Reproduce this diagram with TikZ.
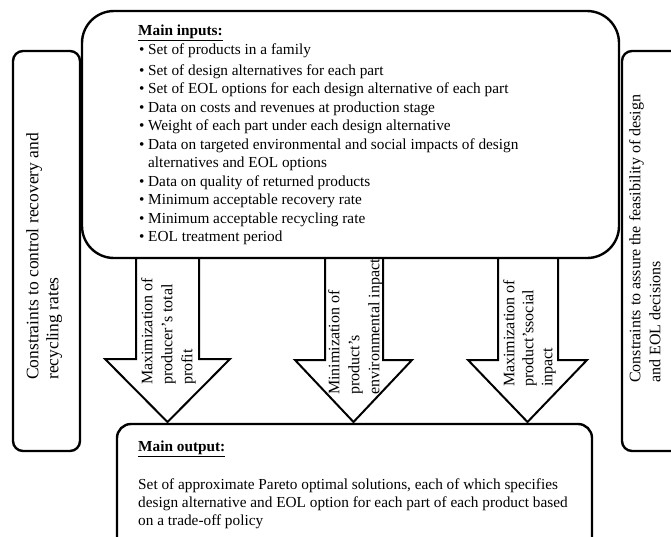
\documentclass[tikz,border=0pt]{standalone}
\usepackage{fontspec}
\setmainfont{Liberation Serif}
\newcommand\inbullet{\makebox[10pt][l]{\hspace{1pt}\textbullet}}
\begin{document}
\begin{tikzpicture}[x=1pt,y=-1pt,
  box/.style={draw=black, line width=2.4pt, fill=white, inner sep=0pt},
  bigarrow/.style={draw=black, line width=2pt, fill=white, line join=miter},
  vlabel/.style={rotate=90, anchor=north west, inner sep=0pt, align=left,
                 font=\fontsize{16}{20}\selectfont},
  bodytext/.style={anchor=north west, inner sep=0pt, align=left,
                 font=\fontsize{15.3}{18.5}\selectfont},
]
\useasboundingbox (0,0) rectangle (671,536);
\clip (0,0) rectangle (671,536);

% side constraint boxes
\node[box, rounded corners=10pt, minimum width=67pt, minimum height=400pt]
  (leftbox) at (46.5,251) {};
\node[box, rounded corners=10pt, minimum width=80pt, minimum height=400pt]
  (rightbox) at (662,251) {};

% main inputs box
\node[box, rounded corners=32pt, minimum width=537pt, minimum height=247pt]
  (inputs) at (350.5,134.5) {};

% main output box
\node[box, rounded corners=14pt, minimum width=475pt, minimum height=140pt]
  (output) at (354.5,494) {};

% objective arrows
\draw[bigarrow] (136,258) -- (136,359) -- (105,359) -- (167.5,422)
  -- (230,359) -- (199,359) -- (199,258) -- cycle;
\draw[bigarrow] (325,258) -- (325,360) -- (295,360) -- (353.5,422)
  -- (412,360) -- (383,360) -- (383,258) -- cycle;
\draw[bigarrow] (498,258) -- (498,360) -- (468,360) -- (527.5,422)
  -- (587,360) -- (558,360) -- (558,258) -- cycle;

% texts
\node[bodytext] (intext) at (138,25) {%
  \textbf{\underline{Main inputs:}}\\
  \inbullet Set of products in a family\\[2.5pt]
  \inbullet Set of design alternatives for each part\\
  \inbullet Set of EOL options for each design alternative of each part\\
  \inbullet Data on costs and revenues at production stage\\
  \inbullet Weight of each part under each design alternative\\
  \inbullet Data on targeted environmental and social impacts of design\\
  \hspace*{10pt}alternatives and EOL options\\
  \inbullet Data on quality of returned products\\
  \inbullet Minimum acceptable recovery rate\\
  \inbullet Minimum acceptable recycling rate\\
  \inbullet EOL treatment period};

\node[bodytext, font=\fontsize{15.3}{18}\selectfont] (outtext) at (138,441) {%
  \textbf{\underline{Main output:}}\\[20pt]
  Set of approximate Pareto optimal solutions, each of which specifies\\
  design alternative and EOL option for each part of each product based\\
  on a trade-off policy};

\node[vlabel, font=\fontsize{17.5}{20}\selectfont] (lefttext) at (26,380)
  {Constraints to control recovery and\\recycling rates};
\node[vlabel] (righttext) at (629,383)
  {Constraints to assure the feasibility of design\\and EOL decisions};

\node[vlabel] (a1text) at (141,385)
  {Maximization of\\producer’s total\\profit};
\node[vlabel] (a2text) at (328,395)
  {Minimization of\\product’s\\environmental inpact};
\node[vlabel, font=\fontsize{16}{19}\selectfont] (a3text) at (503,387)
  {Maximization of\\product’ssocial\\inpact};
\end{tikzpicture}
\end{document}
